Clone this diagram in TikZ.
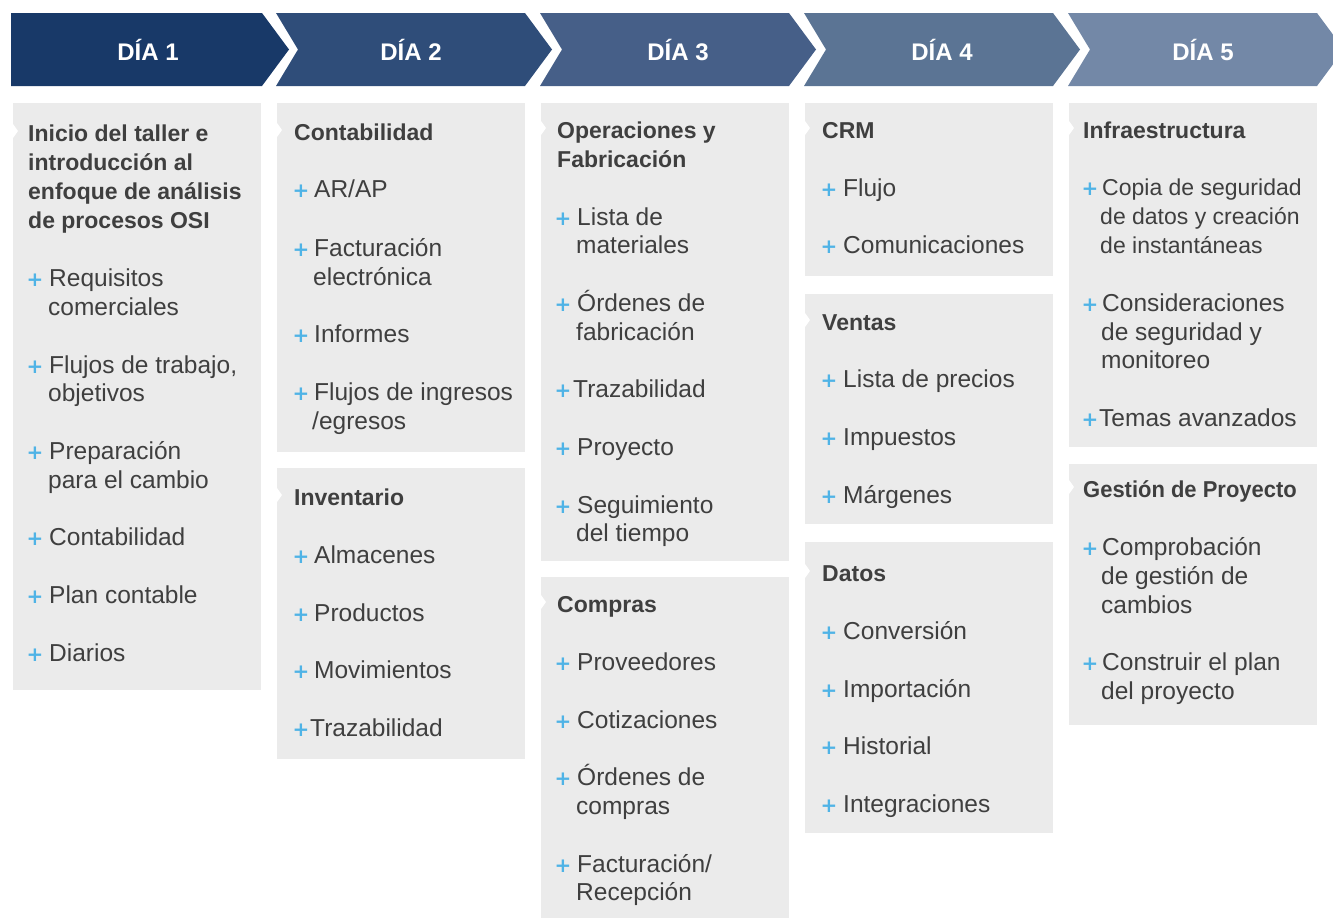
\documentclass[tikz,border=0pt]{standalone}
\usepackage{fontspec}
\setmainfont{Liberation Sans}
\newfontfamily\plusfont{DejaVu Sans}
\definecolor{dayA}{HTML}{183968}
\definecolor{dayB}{HTML}{2F4D79}
\definecolor{dayC}{HTML}{465F88}
\definecolor{dayD}{HTML}{5B7494}
\definecolor{dayE}{HTML}{7388A7}
\definecolor{boxgray}{HTML}{EBEBEB}
\definecolor{txt}{HTML}{3F3F3F}
\definecolor{plusc}{HTML}{4FB3E6}
\newcommand\mkttl[4]{\node[ttlsty] (#1) at (#2,#3) {#4};}
\newcommand\mkbod[4]{\node[bodsty] (#1) at (#2,#3) {#4};}
\newcommand\mkbods[4]{\node[bodsty,font=\fontsize{23}{23}\selectfont] (#1) at (#2,#3) {#4};}
\newcommand\mkplus[3]{\node[plsty] (#1) at (#2,#3) {+};}
\newcommand\mknotch[2]{\fill[white] (#1,#2-7) -- (#1+5,#2) -- (#1,#2+7) -- cycle;}
\begin{document}
\begin{tikzpicture}[x=1pt,y=-1pt,
  ttlsty/.style={anchor=base west, inner sep=0pt, font=\bfseries\fontsize{23}{23}\selectfont, text=txt, yshift=-8pt},
  bodsty/.style={anchor=base west, inner sep=0pt, font=\fontsize{24.5}{24.5}\selectfont, text=txt, yshift=-8.5pt},
  plsty/.style={anchor=center, inner sep=0pt, font=\plusfont\bfseries\fontsize{20}{20}\selectfont, text=plusc, yshift=-2.5pt},
  hdrsty/.style={anchor=center, inner sep=0pt, font=\bfseries\fontsize{24}{24}\selectfont, text=white}]
\useasboundingbox (0,0) rectangle (1333,919);
\clip (0,0) rectangle (1333,919);
% header chevrons
\fill[dayA] (11,13) -- (262,13) -- (289,49.5) -- (262,86) -- (11,86) -- cycle;
\node[hdrsty] (d1) at (148,50) {DÍA 1};
\fill[dayB] (276,13) -- (525,13) -- (552,49.5) -- (525,86) -- (276,86) -- (298,49.5) -- cycle;
\node[hdrsty] (d2) at (411,50) {DÍA 2};
\fill[dayC] (540,13) -- (789,13) -- (816,49.5) -- (789,86) -- (540,86) -- (562,49.5) -- cycle;
\node[hdrsty] (d3) at (678,50) {DÍA 3};
\fill[dayD] (804,13) -- (1053,13) -- (1080,49.5) -- (1053,86) -- (804,86) -- (826,49.5) -- cycle;
\node[hdrsty] (d4) at (942,50) {DÍA 4};
\fill[dayE] (1068,13) -- (1317,13) -- (1344,49.5) -- (1317,86) -- (1068,86) -- (1090,49.5) -- cycle;
\node[hdrsty] (d5) at (1203,50) {DÍA 5};
% boxes
\fill[boxgray] (13,103) rectangle (261,690);
\fill[boxgray] (277,103) rectangle (525,452);
\fill[boxgray] (277,468) rectangle (525,759);
\fill[boxgray] (541,103) rectangle (789,561);
\fill[boxgray] (541,577) rectangle (789,918);
\fill[boxgray] (805,103) rectangle (1053,276);
\fill[boxgray] (805,294) rectangle (1053,524);
\fill[boxgray] (805,542) rectangle (1053,833);
\fill[boxgray] (1069,103) rectangle (1317,447);
\fill[boxgray] (1069,464) rectangle (1317,725);
% notches
\mknotch{13}{131}
\mknotch{277}{130}
\mknotch{277}{495}
\mknotch{541}{128}
\mknotch{541}{602}
\mknotch{805}{128}
\mknotch{805}{320}
\mknotch{805}{571}
\mknotch{1069}{128}
\mknotch{1069}{487}
% column 1
\mkttl{a1}{28}{133}{Inicio del taller e}
\mkttl{a2}{28}{162}{introducción al}
\mkttl{a3}{28}{191}{enfoque de análisis}
\mkttl{a4}{28}{220}{de procesos OSI}
\mkplus{ap1}{35}{278}\mkbod{ab1}{49}{278}{Requisitos}
\mkbod{ab1b}{48}{307}{comerciales}
\mkplus{ap2}{35}{365}\mkbod{ab2}{49}{365}{Flujos de trabajo,}
\mkbod{ab2b}{48}{393}{objetivos}
\mkplus{ap3}{35}{451}\mkbod{ab3}{49}{451}{Preparación}
\mkbod{ab3b}{48}{480}{para el cambio}
\mkplus{ap4}{35}{537}\mkbod{ab4}{49}{537}{Contabilidad}
\mkplus{ap5}{35}{595}\mkbod{ab5}{49}{595}{Plan contable}
\mkplus{ap6}{35}{653}\mkbod{ab6}{49}{653}{Diarios}
% column 2
\mkttl{b1}{294}{132}{Contabilidad}
\mkplus{bp1}{301}{189}\mkbod{bb1}{314}{189}{AR/AP}
\mkplus{bp2}{301}{248}\mkbod{bb2}{314}{248}{Facturación}
\mkbod{bb2b}{313}{277}{electrónica}
\mkplus{bp3}{301}{334}\mkbod{bb3}{314}{334}{Informes}
\mkplus{bp4}{301}{392}\mkbod{bb4}{314}{392}{Flujos de ingresos}
\mkbod{bb4b}{312}{421}{/egresos}
\mkttl{b2}{294}{497}{Inventario}
\mkplus{bp5}{301}{555}\mkbod{bb5}{314}{555}{Almacenes}
\mkplus{bp6}{301}{613}\mkbod{bb6}{314}{613}{Productos}
\mkplus{bp7}{301}{670}\mkbod{bb7}{314}{670}{Movimientos}
\mkplus{bp8}{301}{728}\mkbod{bb8}{310}{728}{Trazabilidad}
% column 3
\mkttl{c1}{557}{130}{Operaciones y}
\mkttl{c1b}{557}{159}{Fabricación}
\mkplus{cp1}{563}{217}\mkbod{cb1}{577}{217}{Lista de}
\mkbod{cb1b}{576}{245}{materiales}
\mkplus{cp2}{563}{303}\mkbod{cb2}{577}{303}{Órdenes de}
\mkbod{cb2b}{576}{332}{fabricación}
\mkplus{cp3}{563}{389}\mkbod{cb3}{573}{389}{Trazabilidad}
\mkplus{cp4}{563}{447}\mkbod{cb4}{577}{447}{Proyecto}
\mkplus{cp5}{563}{505}\mkbod{cb5}{577}{505}{Seguimiento}
\mkbod{cb5b}{576}{533}{del tiempo}
\mkttl{c2}{557}{604}{Compras}
\mkplus{cp6}{563}{662}\mkbod{cb6}{577}{662}{Proveedores}
\mkplus{cp7}{563}{720}\mkbod{cb7}{577}{720}{Cotizaciones}
\mkplus{cp8}{563}{777}\mkbod{cb8}{577}{777}{Órdenes de}
\mkbod{cb8b}{576}{806}{compras}
\mkplus{cp9}{563}{864}\mkbod{cb9}{577}{864}{Facturación/}
\mkbod{cb9b}{576}{892}{Recepción}
% column 4
\mkttl{d1t}{822}{130}{CRM}
\mkplus{dp1}{829}{188}\mkbod{db1}{843}{188}{Flujo}
\mkplus{dp2}{829}{245}\mkbod{db2}{843}{245}{Comunicaciones}
\mkttl{d2t}{822}{322}{Ventas}
\mkplus{dp3}{829}{379}\mkbod{db3}{843}{379}{Lista de precios}
\mkplus{dp4}{829}{437}\mkbod{db4}{843}{437}{Impuestos}
\mkplus{dp5}{829}{495}\mkbod{db5}{843}{495}{Márgenes}
\mkttl{d3t}{822}{573}{Datos}
\mkplus{dp6}{829}{631}\mkbod{db6}{843}{631}{Conversión}
\mkplus{dp7}{829}{689}\mkbod{db7}{843}{689}{Importación}
\mkplus{dp8}{829}{746}\mkbod{db8}{843}{746}{Historial}
\mkplus{dp9}{829}{804}\mkbod{db9}{843}{804}{Integraciones}
% column 5
\mkttl{e1t}{1083}{130}{Infraestructura}
\mkplus{ep1}{1090}{187}\mkbods{eb1}{1102}{187}{Copia de seguridad}
\mkbods{eb1b}{1100}{216}{de datos y creación}
\mkbods{eb1c}{1100}{245}{de instantáneas}
\mkplus{ep2}{1090}{303}\mkbod{eb2}{1102}{303}{Consideraciones}
\mkbod{eb2b}{1101}{332}{de seguridad y}
\mkbod{eb2c}{1101}{360}{monitoreo}
\mkplus{ep3}{1090}{418}\mkbod{eb3}{1099}{418}{Temas avanzados}
\node[ttlsty, font=\bfseries\fontsize{23}{23}\selectfont] (e2t) at (1083,489) {\scalebox{0.955}[1]{Gestión de Proyecto}};
\mkplus{ep4}{1090}{547}\mkbod{eb4}{1102}{547}{Comprobación}
\mkbod{eb4b}{1101}{576}{de gestión de}
\mkbod{eb4c}{1101}{605}{cambios}
\mkplus{ep5}{1090}{662}\mkbod{eb5}{1102}{662}{Construir el plan}
\mkbod{eb5b}{1101}{691}{del proyecto}
\end{tikzpicture}
\end{document}
